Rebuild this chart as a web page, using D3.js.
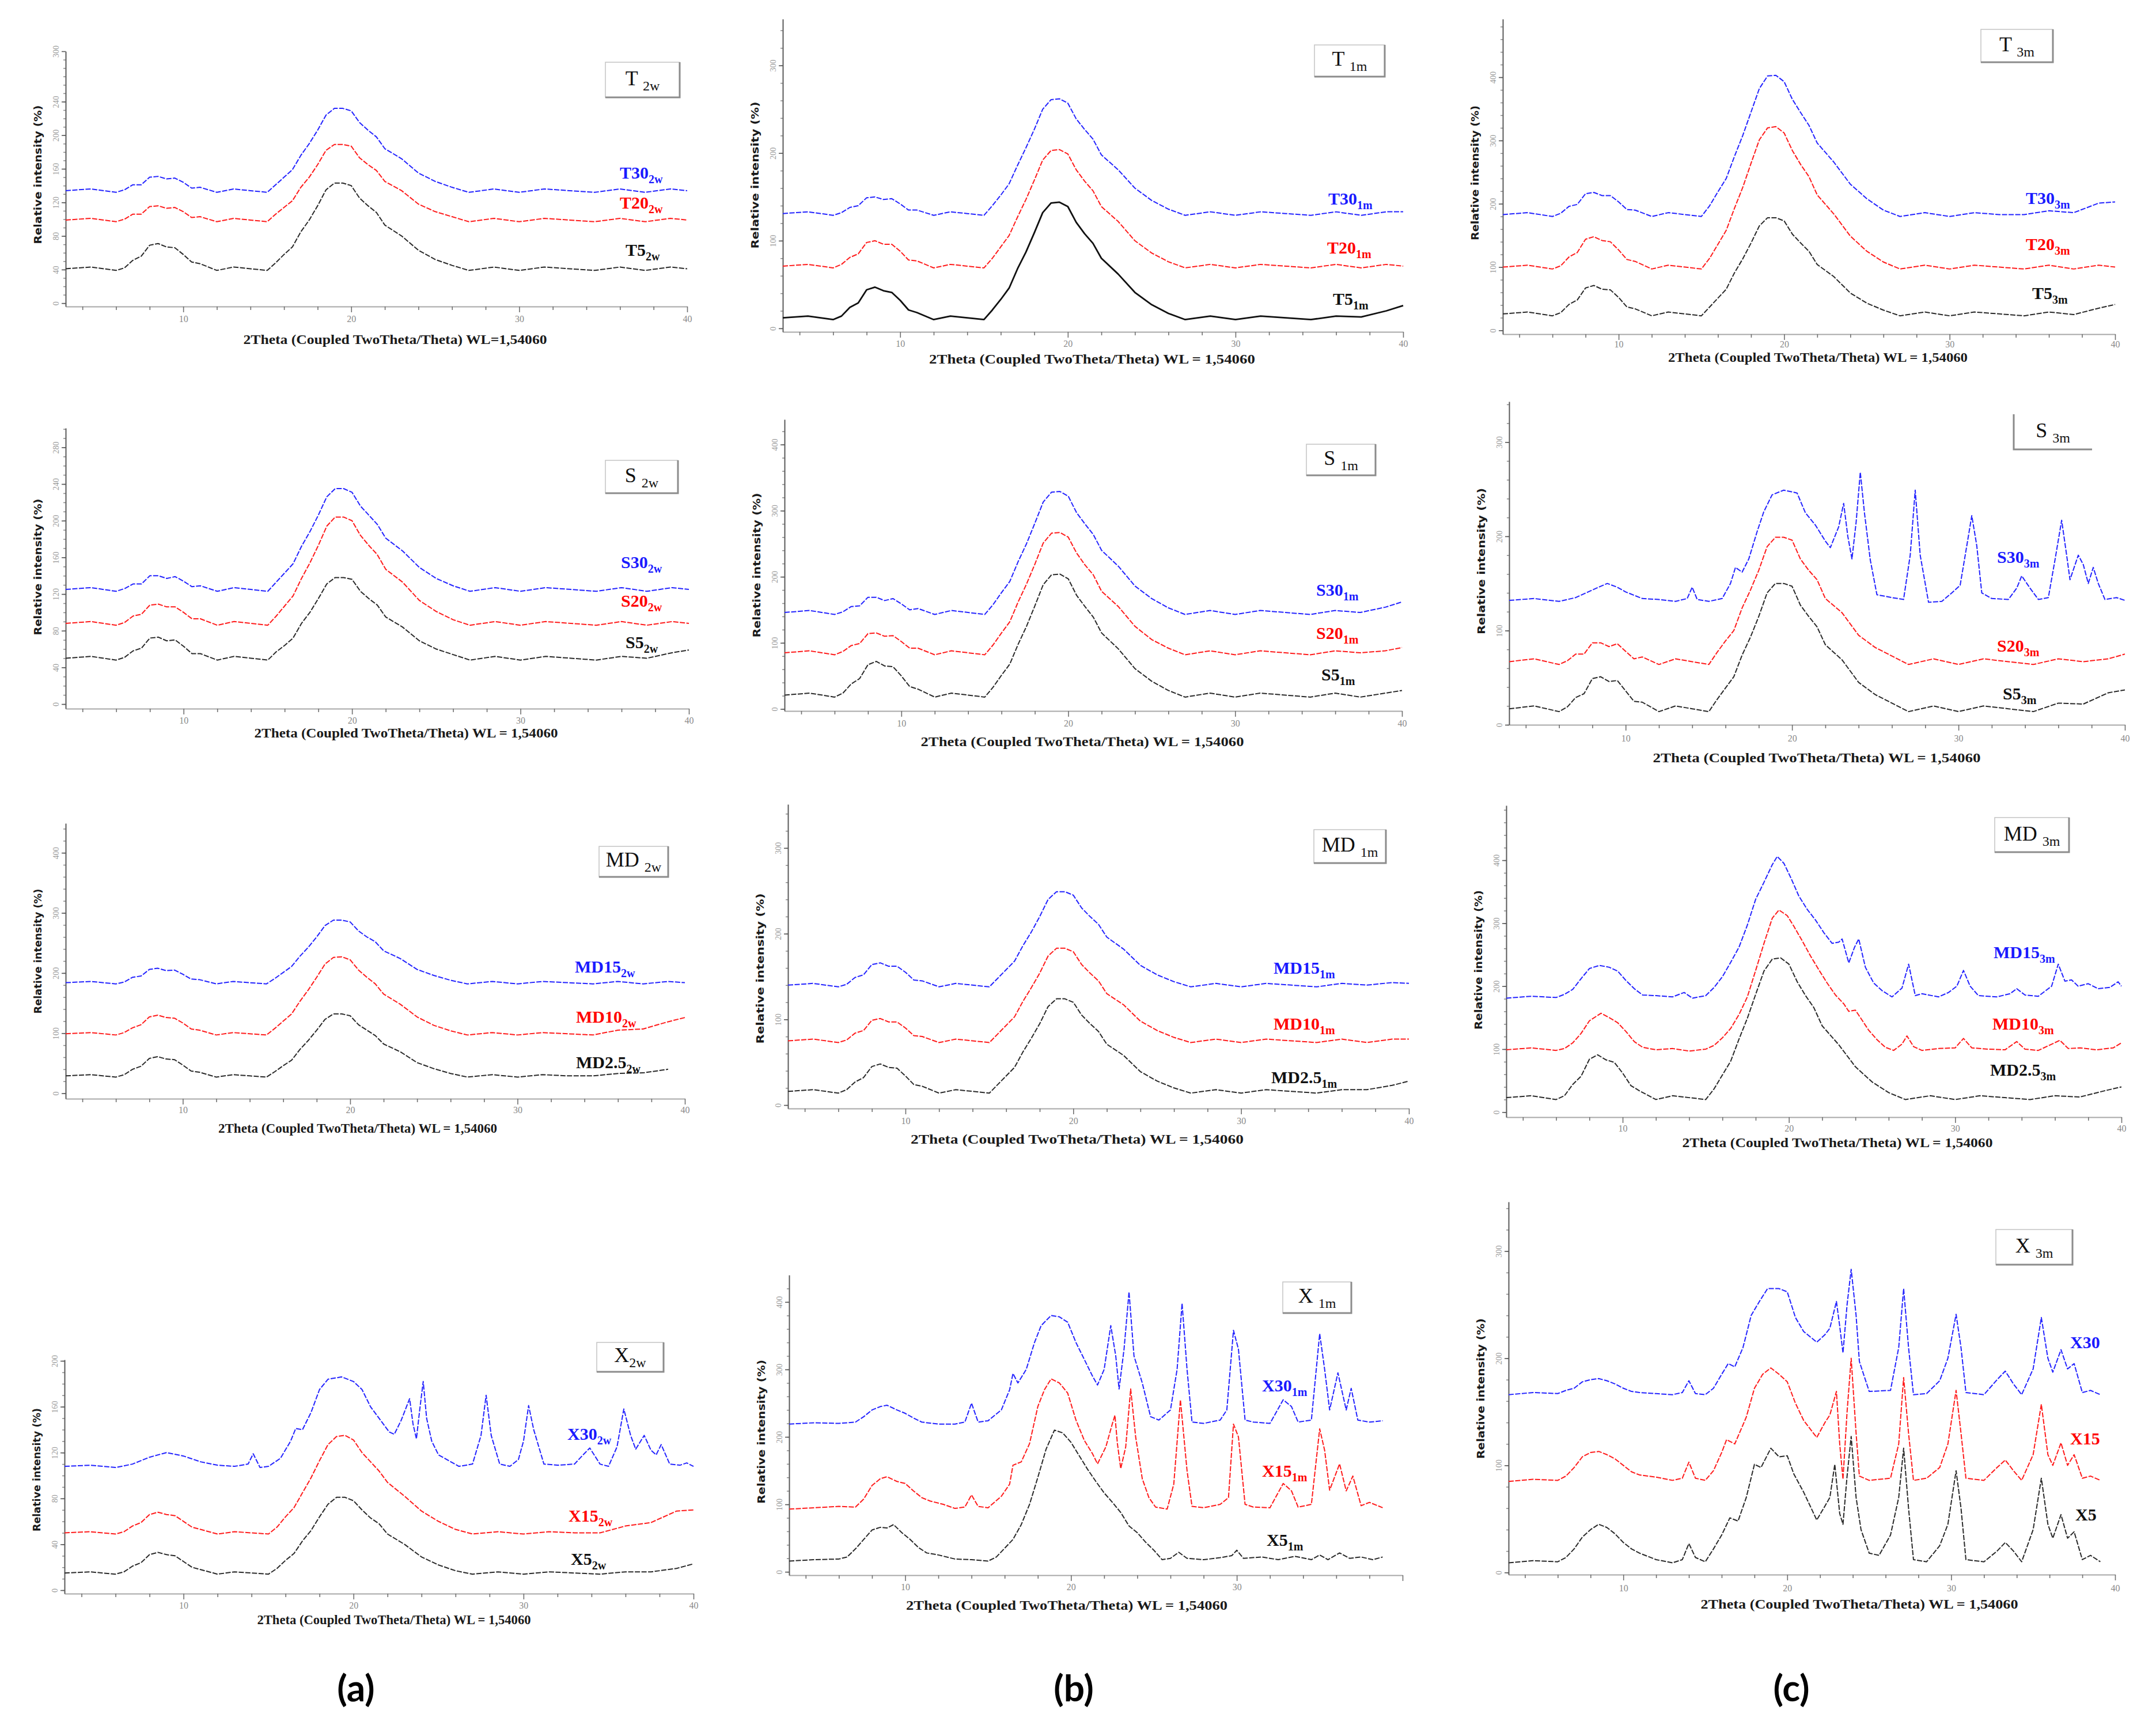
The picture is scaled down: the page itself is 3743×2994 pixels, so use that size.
<!DOCTYPE html>
<html>
<head>
<meta charset="utf-8">
<script src="https://cdn.jsdelivr.net/npm/d3@7"></script>
<style>
  body { margin: 0; background: #fff; }
</style>
</head>
<body>
<svg id="fig" width="3743" height="2994" viewBox="0 0 3743 2994"></svg>
<script>

// shared 2theta grid for the mostly amorphous patterns
const theta = [3,4.5,6,6.5,7,7.5,8,8.5,9,9.5,10,10.5,11,12,13,14,15,15.5,16,16.5,17,17.5,18,18.5,19,19.5,20,20.5,21,21.5,22,23,24,25,26,27,28.5,30,31.5,33,34.5,36,37.5,39,40];

// ---- T (2 weeks / 1 month / 3 months) ----
const T5_2w  = [41,43,39,42,51,56,69,71,67,66,58,49,47,39,43,41,39,48,58,67,85,99,116,135,143,143,140,125,116,108,93,80,63,52,45,39,43,39,43,41,39,43,39,43,41];
const T20_2w = [99,101,97,100,106,106,115,116,113,114,109,102,103,97,101,99,97,106,114,122,138,150,165,182,189,189,187,173,165,158,145,134,118,109,103,97,101,97,101,99,97,101,97,101,99];
const T30_2w = [134,136,132,135,141,141,150,151,148,149,144,137,138,132,136,134,132,141,150,159,176,190,206,224,232,232,229,215,206,198,184,172,155,145,138,132,136,132,136,134,132,136,132,136,134];

const T5_1m  = [12,14,10,14,24,29,44,47,43,41,32,21,18,10,14,12,10,21,33,46,68,87,109,132,143,144,139,121,108,97,80,62,41,27,17,10,14,10,14,12,10,14,13,20,26];
const T20_1m = [71,73,69,73,81,85,98,100,96,96,88,78,77,69,73,71,69,80,93,106,127,147,169,192,203,204,199,181,168,157,139,122,100,86,76,69,73,69,73,71,69,73,69,73,71];
const T30_1m = [131,133,129,132,138,140,149,150,147,148,142,135,135,129,133,131,129,140,152,165,186,206,227,250,261,262,257,239,227,216,198,181,160,146,136,129,133,129,133,131,129,133,129,133,133];

const T5_3m  = [26,29,23,28,41,48,67,71,65,64,52,37,34,23,29,26,23,37,51,65,91,113,138,165,178,178,173,152,138,125,104,85,59,43,32,23,29,23,29,26,23,29,25,35,41];
const T20_3m = [100,103,97,102,116,123,144,148,142,140,127,112,109,97,103,100,97,114,136,158,193,226,264,301,320,322,312,284,262,243,214,184,149,125,108,97,103,97,103,100,97,103,97,103,100];
const T30_3m = [183,186,180,185,196,199,216,218,213,213,203,191,190,180,186,183,180,197,219,240,275,308,345,382,402,403,393,365,344,324,296,266,231,208,190,180,186,180,186,183,183,189,186,201,203];

// ---- S ----
const S5_2w  = [50,52,48,51,58,61,72,73,69,70,63,55,55,48,52,50,48,57,64,72,88,100,115,131,138,138,136,123,115,108,95,84,69,60,54,48,52,48,52,50,48,52,50,56,59];
const S20_2w = [88,90,86,89,96,98,108,109,106,106,100,93,93,86,90,88,86,96,107,118,137,154,173,194,204,204,200,184,173,163,147,133,113,101,92,86,90,86,90,88,86,90,86,90,88];
const S30_2w = [125,127,123,126,131,131,140,140,137,139,134,128,129,123,127,125,123,133,143,153,172,188,206,226,235,235,231,216,206,196,181,167,149,137,129,123,127,123,127,125,123,127,123,127,125];

const S5_1m  = [21,24,18,24,38,46,67,72,65,64,50,34,30,18,24,21,18,33,51,68,98,125,156,188,203,204,197,172,155,139,115,91,61,42,28,18,24,18,24,21,18,24,18,24,28];
const S20_1m = [85,88,82,87,96,99,114,115,110,111,102,92,92,82,88,85,82,97,115,132,162,189,219,251,266,267,260,236,218,203,178,155,125,105,92,82,88,82,88,85,82,88,85,88,93];
const S30_1m = [146,149,143,147,155,156,169,169,164,167,159,150,152,143,149,146,143,158,176,193,223,250,281,313,328,329,322,297,280,264,240,216,186,167,153,143,149,143,149,146,143,149,146,154,162];

const S5_3m  = [17,20,14,19,29,33,49,51,46,47,36,25,24,14,20,17,14,27,39,51,74,93,115,140,150,150,147,127,115,104,85,69,45,32,23,14,20,14,20,17,14,23,22,34,37];
const S20_3m = [67,70,64,68,75,75,87,87,83,86,78,70,72,64,70,67,64,77,89,100,124,143,164,189,199,199,196,176,164,154,134,119,95,82,73,64,70,64,70,67,64,70,67,70,75];
const S30_3m = [[3,132],[4.5,134],[6,131],[7,135],[8,143],[8.5,147],[8.9,150],[9.5,146],[10,141],[11,134],[12,133],[13,131],[13.7,134],[14,146],[14.3,133],[15,131],[15.8,134],[16.3,150],[16.6,167],[17,162],[17.4,176],[17.9,205],[18.3,226],[18.8,244],[19.5,249],[20.3,246],[20.8,225],[21.4,212],[22,195],[22.3,188],[22.8,210],[23.1,235],[23.35,200],[23.6,176],[23.85,215],[24.1,268],[24.35,225],[24.7,175],[25.1,138],[26,135],[26.7,133],[27.1,180],[27.4,249],[27.7,180],[28.2,130],[29,131],[29.6,140],[30.1,148],[30.5,190],[30.8,222],[31.1,190],[31.4,140],[32,134],[33,133],[33.5,145],[33.8,158],[34.3,145],[34.8,133],[35.4,135],[35.8,175],[36.2,217],[36.5,180],[36.7,154],[37.2,180],[37.5,170],[37.8,150],[38.1,167],[38.4,150],[38.8,133],[39.5,135],[40,132]];

// ---- MD ----
const MD2_5_2w = [29,31,27,31,40,45,58,61,57,56,47,37,35,27,31,29,27,36,46,55,73,88,105,123,132,132,129,114,105,96,82,69,51,41,33,27,31,27,31,29,29,33,34,40];
const MD10_2w  = [99,101,97,101,109,114,127,130,126,125,117,107,105,97,101,99,97,108,120,132,153,172,193,215,226,227,222,205,193,182,165,148,127,113,104,97,101,97,101,99,97,105,107,119,126];
const MD15_2w  = [184,186,182,185,193,195,206,208,204,205,198,190,189,182,186,184,182,191,201,211,228,243,260,279,288,288,285,270,260,252,237,224,206,196,188,182,186,182,186,184,182,186,182,186,184];

const MD2_5_1m = [16,18,14,18,27,32,45,48,44,43,34,24,22,14,18,16,14,24,34,44,62,78,95,115,124,124,120,105,95,86,71,58,39,28,20,14,18,14,18,16,14,18,18,23,28];
const MD10_1m  = [75,77,73,76,84,87,99,101,97,97,90,81,80,73,77,75,73,83,93,103,121,137,154,174,183,183,179,164,154,145,130,117,98,87,79,73,77,73,77,75,73,77,73,77,77];
const MD15_1m  = [140,142,138,141,149,152,164,166,162,162,155,146,145,138,142,140,138,148,158,168,186,202,220,240,249,249,245,230,220,211,196,182,163,152,144,138,142,138,142,140,138,142,140,143,142];

const MD2_5_3m = [23,26,20,26,44,57,84,91,83,79,62,42,34,20,26,23,20,37,59,81,116,149,187,224,243,245,235,207,185,166,137,107,72,48,31,20,26,20,26,23,20,26,24,34,40];
const MD10_3m  = [[3,99],[4.5,102],[6,98],[6.5,101],[7,110],[7.5,125],[8,145],[8.7,157],[9.2,150],[9.7,142],[10.2,128],[10.7,112],[11.2,103],[12,99],[13,101],[14,97],[15,100],[15.5,106],[16,118],[16.5,133],[17,155],[17.5,183],[18,225],[18.5,268],[19,308],[19.4,321],[19.9,312],[20.3,295],[20.8,272],[21.3,248],[21.8,226],[22.3,205],[22.8,186],[23.3,172],[23.6,160],[24,162],[24.3,150],[24.8,130],[25.3,115],[25.8,103],[26.3,98],[26.8,108],[27.1,121],[27.5,104],[28,98],[29,101],[30,102],[30.5,117],[31,102],[32,100],[33,99],[33.7,112],[34.2,100],[35,98],[36.3,114],[36.8,101],[37.5,102],[38.5,99],[39.5,102],[40,110]];
const MD15_3m  = [[3,181],[4.5,184],[6,182],[6.5,187],[7,195],[7.5,212],[8,228],[8.6,233],[9.2,230],[9.7,224],[10.2,209],[10.7,196],[11.2,186],[12,185],[13,183],[13.7,190],[14.2,181],[15,185],[15.5,198],[16,215],[16.5,238],[17,262],[17.5,297],[18,338],[18.5,365],[19,393],[19.3,406],[19.7,395],[20.1,373],[20.6,343],[21.1,322],[21.6,305],[22.1,285],[22.6,268],[23,270],[23.2,275],[23.6,237],[23.95,262],[24.2,275],[24.6,230],[25.1,205],[25.6,193],[26.2,183],[26.8,197],[27.2,235],[27.6,185],[28,188],[29,183],[29.6,190],[30.1,200],[30.5,225],[30.9,200],[31.4,185],[32.5,183],[33.3,188],[33.7,196],[34.2,186],[35,184],[35.8,200],[36.2,235],[36.6,208],[37,210],[37.4,200],[38,204],[38.6,196],[39.3,198],[39.8,207],[40,200]];

// ---- X ----
const X5_2w  = [15,16,14,16,21,24,31,33,31,30,25,20,18,14,16,15,14,19,26,32,43,52,64,75,81,81,78,70,63,58,49,40,29,22,17,14,16,14,16,15,14,16,16,19,23];
const X15_2w = [50,51,49,51,56,59,66,68,66,65,60,55,53,49,51,50,49,55,64,72,85,98,113,127,134,135,131,120,112,104,94,82,69,60,53,49,51,49,51,50,50,56,59,69,70];
const X30_2w = [[3,108],[4.5,109],[6,107],[7,110],[8,116],[9,120],[10,117],[11,112],[12,109],[13,108],[13.8,110],[14.1,119],[14.5,107],[15,108],[15.7,115],[16.3,130],[16.6,141],[17,140],[17.5,155],[18,175],[18.5,184],[19.3,186],[20,182],[20.5,175],[21,160],[21.6,148],[22.1,138],[22.4,136],[22.8,148],[23.3,167],[23.5,145],[23.7,132],[23.9,158],[24.1,182],[24.3,150],[24.6,130],[25,118],[25.6,113],[26.2,108],[27,110],[27.5,135],[27.8,170],[28.1,135],[28.6,110],[29.2,108],[29.7,114],[30,130],[30.3,161],[30.6,140],[31.2,110],[32,109],[33,110],[33.5,118],[33.9,124],[34.5,110],[35,108],[35.5,125],[35.9,158],[36.3,135],[36.6,123],[37.1,135],[37.5,122],[37.8,118],[38.1,127],[38.6,110],[39.2,109],[39.6,111],[40,108]];

const X5_1m  = [[3,16],[4.5,18],[6,19],[6.5,22],[7,34],[7.5,48],[8,62],[8.5,66],[8.9,65],[9.3,70],[9.8,58],[10.3,48],[10.8,36],[11.3,28],[12,25],[13,19],[14,18],[15,16],[15.5,22],[16,35],[16.5,48],[17,70],[17.5,100],[18,140],[18.5,182],[19,210],[19.5,206],[20,192],[20.5,172],[21,152],[21.5,134],[22,117],[22.5,103],[23,88],[23.5,68],[24,58],[24.5,44],[25,32],[25.5,18],[26,20],[26.5,29],[27,20],[28,18],[29,21],[29.7,24],[30,32],[30.4,20],[31.5,22],[32.5,18],[33.5,23],[34.5,18],[35,25],[35.5,18],[36.2,28],[36.8,20],[37.5,22],[38.2,18],[38.8,22]];
const X15_1m = [[3,93],[4.5,95],[6,97],[7,96],[7.5,108],[8,128],[8.5,138],[8.9,141],[9.5,134],[10,131],[10.5,120],[11,110],[11.5,105],[12.3,100],[13,94],[13.6,96],[14,114],[14.4,97],[15,95],[15.8,112],[16.3,130],[16.5,158],[17,163],[17.5,190],[18,245],[18.4,270],[18.8,286],[19.3,280],[19.8,265],[20.3,225],[20.8,195],[21.3,175],[21.6,160],[22.1,185],[22.5,220],[22.65,232],[22.8,190],[23,153],[23.3,185],[23.6,271],[23.9,200],[24.3,138],[24.7,110],[25.1,96],[25.8,93],[26.2,130],[26.6,255],[27,150],[27.3,97],[28,95],[29,100],[29.5,110],[29.8,219],[30.1,200],[30.5,100],[31,96],[32,95],[32.8,131],[33.3,120],[33.7,96],[34.5,100],[35,212],[35.3,180],[35.6,121],[36.2,160],[36.6,120],[37,142],[37.5,98],[38,103],[38.8,95]];
const X30_1m = [[3,219],[4.5,221],[6,220],[7,222],[7.5,230],[8,240],[8.5,245],[8.9,247],[9.5,240],[10,235],[10.5,228],[11,222],[12,219],[13,219],[13.6,222],[14,250],[14.4,222],[15,224],[15.8,240],[16.3,270],[16.5,294],[16.8,280],[17.3,300],[17.8,340],[18.2,365],[18.8,380],[19.3,378],[19.8,370],[20.3,340],[20.8,315],[21.3,290],[21.6,277],[22,300],[22.4,365],[22.7,320],[22.9,271],[23.2,330],[23.5,415],[23.8,320],[24.3,280],[24.8,230],[25.3,225],[26,240],[26.4,300],[26.7,398],[27,300],[27.3,222],[28,220],[29,225],[29.4,240],[29.8,358],[30.1,330],[30.5,225],[31,222],[32,220],[32.8,255],[33.3,245],[33.7,222],[34.5,225],[35,353],[35.3,300],[35.6,240],[36.1,295],[36.6,240],[36.9,272],[37.3,225],[38,222],[38.8,224]];

const X5_3m  = [[3,9],[4.5,11],[6,10],[6.5,14],[7,22],[7.5,33],[8,40],[8.5,45],[9,42],[9.5,36],[10,28],[10.5,22],[11,18],[12,12],[13,9],[13.6,12],[14,27],[14.4,14],[15,10],[15.5,22],[16,35],[16.5,51],[17,48],[17.5,70],[18,101],[18.4,98],[19,116],[19.5,108],[20,109],[20.4,92],[21,75],[21.8,49],[22.3,62],[22.6,70],[22.9,101],[23.2,55],[23.4,45],[23.65,90],[23.9,127],[24.2,70],[24.5,40],[25,18],[25.6,16],[26.3,35],[26.8,70],[27.1,116],[27.4,60],[27.7,12],[28.5,10],[29.3,25],[29.8,45],[30.3,95],[30.6,60],[30.9,12],[32,10],[32.8,20],[33.3,28],[33.8,20],[34.3,10],[35,40],[35.5,88],[35.9,45],[36.2,32],[36.7,54],[37.1,32],[37.5,38],[38,12],[38.5,16],[39.1,10]];
const X15_3m = [[3,85],[4.5,87],[6,86],[6.5,90],[7,98],[7.5,108],[8,112],[8.5,113],[9,110],[9.5,106],[10,100],[10.5,94],[11,91],[12,89],[13,86],[13.6,88],[14,103],[14.4,88],[15,86],[15.5,95],[16,112],[16.3,124],[16.8,120],[17.5,145],[18,172],[18.5,185],[19,191],[19.5,185],[20,178],[20.5,158],[21,142],[21.8,126],[22.3,140],[22.6,147],[23,169],[23.2,120],[23.4,87],[23.65,150],[23.9,200],[24.2,130],[24.4,90],[25,86],[26.3,88],[26.8,120],[27.1,182],[27.4,130],[27.7,86],[28.5,88],[29.3,98],[29.8,120],[30.3,170],[30.6,130],[30.9,88],[32,86],[32.8,98],[33.3,105],[33.8,95],[34.3,86],[35,110],[35.5,157],[35.9,110],[36.2,100],[36.7,121],[37.1,100],[37.5,110],[38,88],[38.5,90],[39.1,86]];
const X30_3m = [[3,166],[4.5,168],[6,167],[6.5,170],[7,172],[7.5,178],[8,180],[8.5,181],[9,179],[9.5,176],[10,172],[10.5,169],[11,168],[12,167],[13,166],[13.6,168],[14,179],[14.4,167],[15,166],[15.5,172],[16,185],[16.4,195],[16.8,192],[17.3,210],[17.8,240],[18.3,253],[18.8,265],[19.5,265],[20,262],[20.5,238],[21,225],[21.8,215],[22.3,222],[22.6,228],[23,253],[23.2,230],[23.4,205],[23.65,250],[23.9,283],[24.2,240],[24.4,197],[25,169],[26.3,170],[26.8,210],[27.1,265],[27.4,210],[27.7,166],[28.5,167],[29.3,179],[29.8,200],[30.3,241],[30.6,210],[30.9,168],[32,166],[32.8,180],[33.3,188],[33.8,176],[34.3,166],[35,190],[35.5,238],[35.9,200],[36.2,187],[36.7,208],[37.1,190],[37.5,195],[38,168],[38.5,170],[39.1,166]];

// axis tick labels
const xTickLabels = [10, 20, 30, 40];
const yTicks40  = [0, 40, 80, 120, 160, 200, 240, 280];
const yTicks100 = [0, 100, 200, 300, 400];

const BLUE = '#2424ff', RED = '#ff1c1c', BLACK = '#2a2a2a';
const LBLUE = '#1a1aff', LRED = '#ff0000', LBLACK = '#111';
const XLABEL = '2Theta (Coupled TwoTheta/Theta) WL = 1,54060';

// layout of the 12 panels (pixel positions only)
const panels = [
  { left:114, right:1193, top:89, bottom:532, yDomain:[-4,300], yTicks:[0,40,80,120,160,200,240,300], yMinor:10,
    box:{x:1051,y:108,w:129,h:61,main:'T',sub:'2w'}, tickY:553,
    xLab:{cx:686, y:597, len:527, text:'2Theta (Coupled TwoTheta/Theta) WL=1,54060'}, title:{cy:303, len:241},
    series:[{d:T30_2w,c:BLUE,lc:LBLUE,t:'T30',s:'2w',x:1076,y:310},{d:T20_2w,c:RED,lc:LRED,t:'T20',s:'2w',x:1076,y:362},{d:T5_2w,c:BLACK,lc:LBLACK,t:'T5',s:'2w',x:1086,y:444}] },
  { left:1359, right:2436, top:33, bottom:576, yDomain:[-4,353], yTicks:[0,100,200,300], yMinor:20,
    box:{x:2282,y:78,w:122,h:55,main:'T',sub:'1m'}, tickY:596,
    xLab:{cx:1896, y:631, len:566}, title:{cy:304, len:255},
    series:[{d:T30_1m,c:BLUE,lc:LBLUE,t:'T30',s:'1m',x:2306,y:355},{d:T20_1m,c:RED,lc:LRED,t:'T20',s:'1m',x:2304,y:440},{d:T5_1m,c:'#111',lc:LBLACK,t:'T5',s:'1m',x:2314,y:529,w:2.8,solid:true}] },
  { left:2609, right:3672, top:33, bottom:580, yDomain:[-6,492], yTicks:yTicks100, yMinor:20,
    box:{x:3439,y:51,w:125,h:57,main:'T',sub:'3m'}, tickY:597,
    xLab:{cx:3156, y:628, len:520}, title:{cy:300, len:234},
    series:[{d:T30_3m,c:BLUE,lc:LBLUE,t:'T30',s:'3m',x:3517,y:354},{d:T20_3m,c:RED,lc:LRED,t:'T20',s:'3m',x:3517,y:434},{d:T5_3m,c:BLACK,lc:LBLACK,t:'T5',s:'3m',x:3528,y:519}] },

  { left:114, right:1196, top:743, bottom:1230, yDomain:[-5,301], yTicks:yTicks40, yMinor:10,
    box:{x:1051,y:799,w:126,h:57,main:'S',sub:'2w'}, tickY:1250,
    xLab:{cx:705, y:1280, len:527}, title:{cy:984, len:237},
    series:[{d:S30_2w,c:BLUE,lc:LBLUE,t:'S30',s:'2w',x:1078,y:986},{d:S20_2w,c:RED,lc:LRED,t:'S20',s:'2w',x:1078,y:1053},{d:S5_2w,c:BLACK,lc:LBLACK,t:'S5',s:'2w',x:1086,y:1125}] },
  { left:1362, right:2434, top:728, bottom:1234, yDomain:[-3,438], yTicks:yTicks100, yMinor:20,
    box:{x:2268,y:771,w:120,h:54,main:'S',sub:'1m'}, tickY:1255,
    xLab:{cx:1879, y:1295, len:561}, title:{cy:981, len:251},
    series:[{d:S30_1m,c:BLUE,lc:LBLUE,t:'S30',s:'1m',x:2285,y:1034},{d:S20_1m,c:RED,lc:LRED,t:'S20',s:'1m',x:2285,y:1109},{d:S5_1m,c:BLACK,lc:LBLACK,t:'S5',s:'1m',x:2294,y:1181}] },
  { left:2620, right:3689, top:697, bottom:1258, yDomain:[0,343], yTicks:[0,100,200,300], yMinor:20,
    box:{x:3496,y:719,w:136,h:61,main:'S',sub:'3m',corner:true}, tickY:1281,
    xLab:{cx:3154, y:1323, len:569}, title:{cy:974, len:254},
    series:[{d:S30_3m,c:BLUE,lc:LBLUE,t:'S30',s:'3m',x:3467,y:977},{d:S20_3m,c:RED,lc:LRED,t:'S20',s:'3m',x:3467,y:1131},{d:S5_3m,c:BLACK,lc:LBLACK,t:'S5',s:'3m',x:3477,y:1214}] },

  { left:114, right:1189, top:1429, bottom:1907, yDomain:[-9,449], yTicks:yTicks100, yMinor:20,
    box:{x:1040,y:1469,w:120,h:53,main:'MD',sub:'2w'}, tickY:1926,
    xLab:{cx:621, y:1966, len:484}, title:{cy:1651, len:217},
    series:[{d:MD15_2w,c:BLUE,lc:LBLUE,t:'MD15',s:'2w',x:998,y:1688},{d:MD10_2w,c:RED,lc:LRED,t:'MD10',s:'2w',x:1000,y:1775},{d:MD2_5_2w,c:BLACK,lc:LBLACK,t:'MD2.5',s:'2w',x:1000,y:1854}] },
  { left:1368, right:2446, top:1396, bottom:1924, yDomain:[-4,351], yTicks:[0,100,200,300], yMinor:20,
    box:{x:2281,y:1440,w:125,h:58,main:'MD',sub:'1m'}, tickY:1945,
    xLab:{cx:1870, y:1985, len:578}, title:{cy:1681, len:261},
    series:[{d:MD15_1m,c:BLUE,lc:LBLUE,t:'MD15',s:'1m',x:2211,y:1690},{d:MD10_1m,c:RED,lc:LRED,t:'MD10',s:'1m',x:2211,y:1787},{d:MD2_5_1m,c:BLACK,lc:LBLACK,t:'MD2.5',s:'1m',x:2207,y:1880}] },
  { left:2615, right:3683, top:1398, bottom:1939, yDomain:[-8,487], yTicks:yTicks100, yMinor:20,
    box:{x:3463,y:1419,w:129,h:60,main:'MD',sub:'3m'}, tickY:1958,
    xLab:{cx:3190, y:1991, len:539}, title:{cy:1666, len:242},
    series:[{d:MD15_3m,c:BLUE,lc:LBLUE,t:'MD15',s:'3m',x:3461,y:1663},{d:MD10_3m,c:RED,lc:LRED,t:'MD10',s:'3m',x:3459,y:1787},{d:MD2_5_3m,c:BLACK,lc:LBLACK,t:'MD2.5',s:'3m',x:3455,y:1867}] },

  { left:112, right:1204, top:2360, bottom:2766, yDomain:[-3,201], yTicks:[0,40,80,120,160,200], yMinor:10,
    box:{x:1036,y:2330,w:116,h:51,main:'X',sub:'2w',tight:true}, tickY:2786,
    xLab:{cx:684, y:2819, len:475}, title:{cy:2551, len:214},
    series:[{d:X30_2w,c:BLUE,lc:LBLUE,t:'X30',s:'2w',x:985,y:2499},{d:X15_2w,c:RED,lc:LRED,t:'X15',s:'2w',x:987,y:2641},{d:X5_2w,c:BLACK,lc:LBLACK,t:'X5',s:'2w',x:991,y:2716}] },
  { left:1370, right:2435, top:2213, bottom:2734, yDomain:[-5,440], yTicks:yTicks100, yMinor:20, xShow:[10,20,30],
    box:{x:2227,y:2225,w:119,h:54,main:'X',sub:'1m'}, tickY:2754,
    xLab:{cx:1852, y:2794, len:558}, title:{cy:2485, len:250},
    series:[{d:X30_1m,c:BLUE,lc:LBLUE,t:'X30',s:'1m',x:2191,y:2415},{d:X15_1m,c:RED,lc:LRED,t:'X15',s:'1m',x:2191,y:2563},{d:X5_1m,c:BLACK,lc:LBLACK,t:'X5',s:'1m',x:2199,y:2683}] },
  { left:2619, right:3672, top:2086, bottom:2733, yDomain:[-2,346], yTicks:[0,100,200,300], yMinor:20,
    box:{x:3465,y:2134,w:133,h:61,main:'X',sub:'3m'}, tickY:2756,
    xLab:{cx:3228, y:2792, len:551}, title:{cy:2410, len:244},
    series:[{d:X30_3m,c:BLUE,lc:LBLUE,t:'X30',s:'',x:3594,y:2340},{d:X15_3m,c:RED,lc:LRED,t:'X15',s:'',x:3594,y:2507},{d:X5_3m,c:BLACK,lc:LBLACK,t:'X5',s:'',x:3603,y:2639}] }
];

const columnLetters = [{t:'(a)', x:618}, {t:'(b)', x:1864}, {t:'(c)', x:3110}];

const svg = d3.select('#fig');
svg.append('rect').attr('width', 3743).attr('height', 2994).attr('fill', '#fff');

function toPoints(values) {
  if (Array.isArray(values[0])) return values;
  return values.map((v, i) => [theta[i], v]);
}

function drawPanel(p) {
  const g = svg.append('g');
  const x = d3.scaleLinear().domain([3, 40]).range([p.left, p.right]);
  const y = d3.scaleLinear().domain(p.yDomain).range([p.bottom, p.top]);
  const shown = p.xShow || xTickLabels;

  // x axis, ticks every 2 degrees
  const gx = g.append('g').attr('transform', `translate(0,${p.bottom})`)
    .call(d3.axisBottom(x).tickValues(d3.range(4, 41, 2)).tickSizeInner(6).tickSizeOuter(0)
      .tickFormat(d => (d % 10 === 0 && shown.includes(d)) ? d : ''));
  gx.select('.domain').attr('stroke', '#a8a8a8').attr('stroke-width', 2);
  gx.selectAll('.tick line').attr('stroke', '#707070').attr('stroke-width', 1.6);
  gx.selectAll('.tick').filter(d => d % 10 === 0).select('line').attr('y2', 10);
  gx.selectAll('.tick text')
    .attr('y', p.tickY - p.bottom).attr('dy', '0.35em')
    .attr('font-family', 'Liberation Serif').attr('font-size', 16).attr('fill', '#8a8a8a');

  // y axis: minor then labelled ticks
  const gm = g.append('g').attr('transform', `translate(${p.left},0)`)
    .call(d3.axisLeft(y).tickValues(d3.range(0, p.yDomain[1], p.yMinor)).tickSize(4).tickFormat(''));
  gm.select('.domain').remove();
  gm.selectAll('line').attr('stroke', '#8a8a8a').attr('stroke-width', 1.5);

  const gy = g.append('g').attr('transform', `translate(${p.left},0)`)
    .call(d3.axisLeft(y).tickValues(p.yTicks.filter(v => v >= p.yDomain[0] && v <= p.yDomain[1]))
      .tickSizeInner(7).tickSizeOuter(0));
  gy.select('.domain').attr('stroke', '#5a5a5a').attr('stroke-width', 2);
  gy.selectAll('.tick line').attr('stroke', '#5a5a5a').attr('stroke-width', 1.6);
  gy.selectAll('.tick text')
    .attr('transform', 'rotate(-90)').attr('x', 0).attr('y', -12).attr('dy', 0)
    .attr('text-anchor', 'middle')
    .attr('font-family', 'Liberation Serif').attr('font-size', 14).attr('fill', '#9a9a9a');

  // y title
  g.append('text')
    .attr('transform', `translate(${p.left - 42},${p.title.cy}) rotate(-90)`)
    .attr('text-anchor', 'middle')
    .attr('font-family', 'DejaVu Sans').attr('font-weight', 'bold').attr('font-size', 17)
    .attr('textLength', p.title.len).attr('lengthAdjust', 'spacingAndGlyphs')
    .attr('fill', '#1a1a1a')
    .text('Relative intensity (%)');

  // x title
  g.append('text')
    .attr('x', p.xLab.cx).attr('y', p.xLab.y)
    .attr('text-anchor', 'middle')
    .attr('font-family', 'Liberation Serif').attr('font-weight', 'bold').attr('font-size', 23)
    .attr('textLength', p.xLab.len).attr('lengthAdjust', 'spacingAndGlyphs')
    .attr('fill', '#1a1a1a')
    .text(p.xLab.text || XLABEL);

  // patterns (scanned traces look finely broken, so a short dash is used)
  const line = d3.line().x(d => x(d[0])).y(d => y(d[1]));
  p.series.forEach(s => {
    g.append('path')
      .datum(toPoints(s.d))
      .attr('fill', 'none')
      .attr('stroke', s.c)
      .attr('stroke-width', s.w || 2)
      .attr('stroke-dasharray', s.solid ? null : '9 2.5')
      .attr('stroke-linejoin', 'round')
      .attr('d', line);

    const t = g.append('text')
      .attr('x', s.x).attr('y', s.y)
      .attr('font-family', 'Liberation Serif').attr('font-weight', 'bold').attr('font-size', 30)
      .attr('fill', s.lc);
    t.append('tspan').text(s.t);
    if (s.s) t.append('tspan').attr('font-size', 20).attr('dy', 8).text(s.s);
  });

  // sample box
  const b = p.box;
  if (b.corner) {
    g.append('path').attr('d', `M${b.x},${b.y} V${b.y + b.h} H${b.x + b.w}`)
      .attr('fill', 'none').attr('stroke', '#8a8a8a').attr('stroke-width', 3);
  } else {
    g.append('rect').attr('x', b.x).attr('y', b.y).attr('width', b.w).attr('height', b.h)
      .attr('fill', '#fff').attr('stroke', '#c4c4c4').attr('stroke-width', 1.5);
    g.append('path').attr('d', `M${b.x + b.w},${b.y} V${b.y + b.h} H${b.x}`)
      .attr('fill', 'none').attr('stroke', '#8c8c8c').attr('stroke-width', 3);
  }
  const bt = g.append('text')
    .attr('x', b.x + b.w / 2).attr('y', b.y + b.h * 0.66)
    .attr('text-anchor', 'middle')
    .attr('font-family', 'Liberation Serif').attr('font-size', 36).attr('fill', '#111');
  bt.append('tspan').text(b.tight ? b.main : b.main + ' ');
  bt.append('tspan').attr('font-size', 24).attr('dy', 9).text(b.sub);
}

panels.forEach(drawPanel);

svg.selectAll('text.letter')
  .data(columnLetters)
  .enter()
  .append('text')
  .attr('class', 'letter')
  .attr('x', d => d.x).attr('y', 2953)
  .attr('text-anchor', 'middle')
  .attr('font-family', 'Lato').attr('font-weight', 'bold').attr('font-size', 64)
  .attr('fill', '#000')
  .text(d => d.t);

</script>
</body>
</html>
